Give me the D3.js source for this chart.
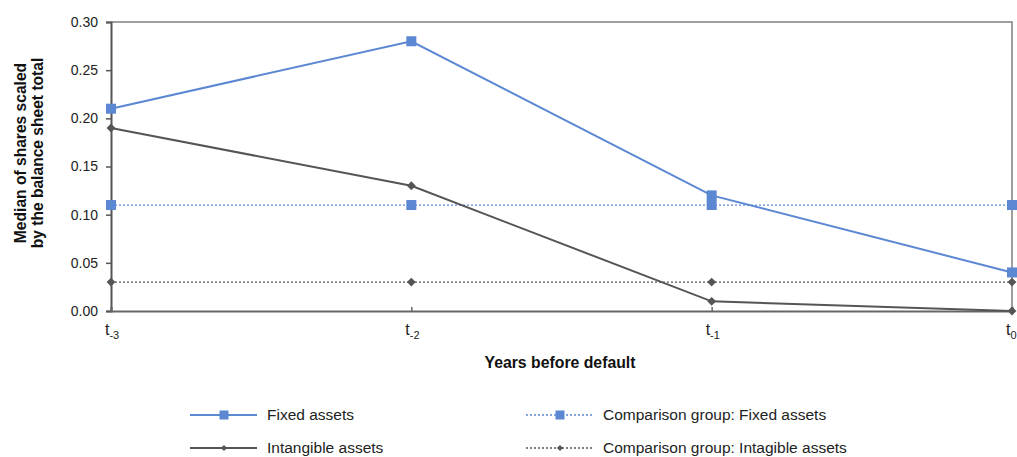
<!DOCTYPE html>
<html>
<head>
<meta charset="utf-8">
<script src="https://cdn.jsdelivr.net/npm/d3@7"></script>
<style>
  body { margin: 0; background: #fff; }
  svg { display: block; }
</style>
</head>
<body>
<div id="chart"></div>
<script>
// Median shares scaled by balance sheet total, years before default

const periods = ["-3", "-2", "-1", "0"];
const fixedAssets = [0.21, 0.28, 0.12, 0.04];
const intangibleAssets = [0.19, 0.13, 0.01, 0.00];
const compFixedAssets = [0.11, 0.11, 0.11, 0.11];
const compIntangibleAssets = [0.03, 0.03, 0.03, 0.03];
const yTicks = [0, 0.05, 0.10, 0.15, 0.20, 0.25, 0.30];

const BLUE = "#5b87d3";
const GREY = "#555555";
const FONT = "Arial, 'Liberation Sans', sans-serif";

const width = 1017;
const height = 457;
const margin = { top: 22, right: 5, bottom: 146, left: 111 };

const svg = d3.select("#chart").append("svg")
    .attr("width", width)
    .attr("height", height);

const x = d3.scalePoint()
    .domain(periods)
    .range([margin.left, width - margin.right]);

const y = d3.scaleLinear()
    .domain([0, 0.30])
    .range([height - margin.bottom, margin.top]);

// frame: top and right in grey
svg.append("path")
    .attr("d", `M${margin.left},${y(0.30)}H${width - margin.right}V${y(0)}`)
    .attr("fill", "none")
    .attr("stroke", "#808080")
    .attr("stroke-width", 1.5);

// y axis
const yAxis = svg.append("g")
    .attr("transform", `translate(${margin.left},0)`)
    .call(d3.axisLeft(y).tickValues(yTicks).tickFormat(d3.format(".2f")).tickSize(5));
yAxis.select(".domain").attr("stroke", "#555").attr("stroke-width", 2);
yAxis.selectAll(".tick line").attr("stroke", "#555").attr("stroke-width", 1.5);
yAxis.selectAll(".tick text")
    .attr("x", -13)
    .attr("font-family", FONT)
    .attr("font-size", "14px")
    .attr("fill", "#222");

// x axis
const xAxis = svg.append("g")
    .attr("transform", `translate(0,${y(0)})`)
    .call(d3.axisBottom(x).tickSize(-4).tickFormat(""));
xAxis.select(".domain").attr("stroke", "#666").attr("stroke-width", 2);
xAxis.selectAll(".tick line").attr("stroke", "#666").attr("stroke-width", 1.5);

const xLabels = svg.append("g");
periods.forEach(p => {
    const t = xLabels.append("text")
        .attr("x", x(p) - 6)
        .attr("y", y(0) + 24)
        .attr("font-family", FONT)
        .attr("font-size", "16px")
        .attr("fill", "#222")
        .attr("text-anchor", "start");
    t.append("tspan").text("t");
    t.append("tspan").attr("font-size", "11px").attr("dy", 4).text(p);
});

// axis titles
svg.append("text")
    .attr("x", 560)
    .attr("y", 368)
    .attr("text-anchor", "middle")
    .attr("font-family", FONT)
    .attr("font-size", "15.8px")
    .attr("font-weight", "bold")
    .attr("fill", "#111")
    .text("Years before default");

const yTitle = svg.append("text")
    .attr("transform", `translate(26,153) rotate(-90)`)
    .attr("text-anchor", "middle")
    .attr("font-family", FONT)
    .attr("font-size", "15.6px")
    .attr("font-weight", "bold")
    .attr("fill", "#111");
yTitle.append("tspan").attr("x", 0).attr("dy", 0).text("Median of shares scaled");
yTitle.append("tspan").attr("x", 0).attr("dy", 17).text("by the balance sheet total");

// series
const series = [
    { name: "Comparison group: Fixed assets", values: compFixedAssets, color: BLUE, dash: "2,2", marker: "square", width: 1.3 },
    { name: "Comparison group: Intagible assets", values: compIntangibleAssets, color: GREY, dash: "2,2", marker: "diamond", width: 1.3 },
    { name: "Intangible assets", values: intangibleAssets, color: GREY, dash: null, marker: "diamond", width: 2 },
    { name: "Fixed assets", values: fixedAssets, color: BLUE, dash: null, marker: "square", width: 2 }
];

const line = d3.line()
    .x((d, i) => x(periods[i]))
    .y(d => y(d));

function drawMarker(g, type, cx, cy, color, size) {
    if (type === "square") {
        g.append("rect")
            .attr("x", cx - size / 2).attr("y", cy - size / 2)
            .attr("width", size).attr("height", size)
            .attr("fill", color);
    } else {
        g.append("path")
            .attr("d", d3.symbol(d3.symbolDiamond2, size * size / 2)())
            .attr("transform", `translate(${cx},${cy})`)
            .attr("fill", color);
    }
}

series.forEach(s => {
    const g = svg.append("g");
    g.append("path")
        .datum(s.values)
        .attr("d", line)
        .attr("fill", "none")
        .attr("stroke", s.color)
        .attr("stroke-width", s.width)
        .attr("stroke-dasharray", s.dash);
    s.values.forEach((v, i) => drawMarker(g, s.marker, x(periods[i]), y(v), s.color, 10));
});

// legend
const legendItems = [
    { s: series[3], col: 0, row: 0 },
    { s: series[0], col: 1, row: 0 },
    { s: series[2], col: 0, row: 1 },
    { s: series[1], col: 1, row: 1 }
];
const legendCols = [190, 526];
const legendRows = [415, 448];

legendItems.forEach(item => {
    const lx = legendCols[item.col];
    const ly = legendRows[item.row];
    const g = svg.append("g");
    g.append("line")
        .attr("x1", lx).attr("x2", lx + 67)
        .attr("y1", ly).attr("y2", ly)
        .attr("stroke", item.s.color)
        .attr("stroke-width", item.s.dash ? 1.3 : 2)
        .attr("stroke-dasharray", item.s.dash);
    drawMarker(g, item.s.marker, lx + 34, ly, item.s.color, item.s.marker === "square" ? 9 : 7);
    g.append("text")
        .attr("x", lx + 77)
        .attr("y", ly + 5.2)
        .attr("font-family", FONT)
        .attr("font-size", "15.5px")
        .attr("fill", "#222")
        .text(item.s.name);
});
</script>
</body>
</html>
